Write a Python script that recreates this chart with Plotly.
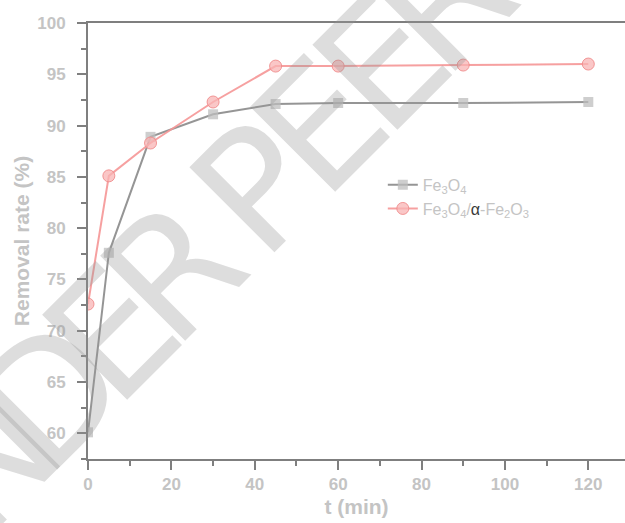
import math
import plotly.graph_objects as go

t_fe3o4 = [0, 5, 15, 30, 45, 60, 90, 120]
rate_fe3o4 = [60.1, 77.6, 88.9, 91.1, 92.1, 92.2, 92.2, 92.3]

t_comp = [0, 5, 15, 30, 45, 60, 90, 120]
rate_comp = [72.6, 85.1, 88.3, 92.3, 95.8, 95.8, 95.9, 96.0]

name_fe3o4 = "Fe<sub>3</sub>O<sub>4</sub>"
name_comp = "Fe<sub>3</sub>O<sub>4</sub>/<span style='color:#3a3a3a'>α</span>-Fe<sub>2</sub>O<sub>3</sub>"

x_title = "t (min)"
y_title = "Removal rate (%)"
watermark = "UNDER PEER REVIEW"

AX = "#7f7f7f"
LBL = "#c4c4c4"
FONT = "Arial, Liberation Sans, sans-serif"

W, H = 625, 523
ML, MR, MT, MB = 88, 0, 23, 64
PW, PH = W - ML - MR, H - MT - MB

fig = go.Figure()
fig.add_trace(go.Scatter(
    x=t_fe3o4, y=rate_fe3o4, name=name_fe3o4, mode="lines+markers",
    line=dict(color="rgba(130,130,130,0.85)", width=2),
    marker=dict(symbol="square", size=10, color="rgba(190,190,190,0.75)",
                line=dict(width=0)),
))
fig.add_trace(go.Scatter(
    x=t_comp, y=rate_comp, name=name_comp, mode="lines+markers",
    line=dict(color="rgba(245,150,150,0.9)", width=2),
    marker=dict(symbol="circle", size=12, color="rgba(248,180,180,0.75)",
                line=dict(width=1, color="rgba(240,140,140,0.9)")),
))

# watermark, one letter per annotation laid along a 45 degree baseline
ang = math.radians(45)
ux, uy = math.cos(ang), -math.sin(ang)
step, gap = 88, 30
anchor_idx = watermark.index("P")
anchor_px = (258, 188)
pos = []
s = 0.0
for ch in watermark:
    if ch == " ":
        s += gap
        pos.append(None)
        continue
    pos.append(s)
    s += step
s0 = pos[anchor_idx]
for ch, p in zip(watermark, pos):
    if p is None:
        continue
    d = p - s0
    px = anchor_px[0] + d * ux
    py = anchor_px[1] + d * uy
    fig.add_annotation(
        text=ch, xref="paper", yref="paper",
        x=(px - ML) / PW, y=(H - MB - py) / PH,
        xanchor="center", yanchor="middle",
        showarrow=False, textangle=-45,
        font=dict(family="DejaVu Sans", size=165, color="rgba(150,150,150,0.32)"),
    )

fig.update_layout(
    width=W, height=H,
    margin=dict(l=ML, r=MR, t=MT, b=MB),
    paper_bgcolor="white", plot_bgcolor="white",
    font=dict(family=FONT, color=LBL),
    showlegend=True,
    legend=dict(x=0.549, y=0.668, xanchor="left", yanchor="top",
                bgcolor="rgba(0,0,0,0)", font=dict(size=16, color=LBL),
                tracegroupgap=0, itemwidth=30),
)

fig.update_xaxes(
    range=[0, 128.8], showgrid=False, zeroline=False,
    showline=True, linecolor=AX, linewidth=2, mirror=True,
    ticks="outside", ticklen=9, tickwidth=2, tickcolor=AX,
    tick0=0, dtick=20,
    minor=dict(ticks="outside", ticklen=5, tickwidth=2, tickcolor=AX, dtick=10),
    tickfont=dict(size=17, color=LBL, family=FONT, weight="bold"),
    title=dict(text=x_title, font=dict(size=21, color=LBL, family=FONT, weight="bold"), standoff=6),
)
fig.update_yaxes(
    range=[57.5, 100], showgrid=False, zeroline=False,
    showline=True, linecolor=AX, linewidth=2, mirror=False,
    ticks="outside", ticklen=9, tickwidth=2, tickcolor=AX,
    tick0=60, dtick=5, ticklabelstandoff=8,
    minor=dict(ticks="outside", ticklen=5, tickwidth=2, tickcolor=AX, dtick=2.5),
    tickfont=dict(size=17, color=LBL, family=FONT, weight="bold"),
    title=dict(text=y_title, font=dict(size=21, color=LBL, family=FONT, weight="bold"), standoff=2),
)

fig.write_html("out.html")
